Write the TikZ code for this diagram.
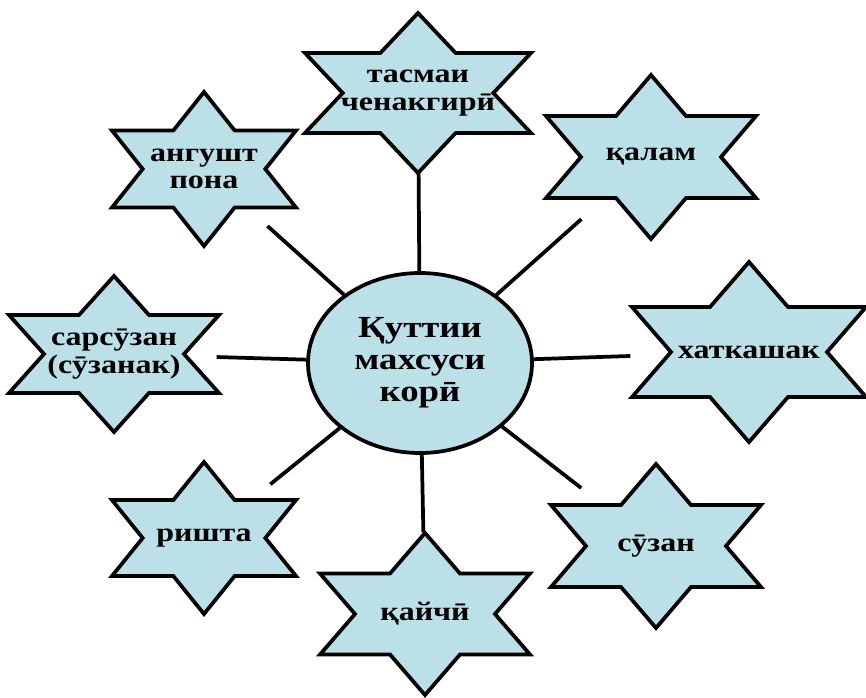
\documentclass[tikz,border=0pt]{standalone}
\usepackage{fontspec}
\newfontfamily\tjfont{Liberation Serif}[FakeStretch=1.2]
\usetikzlibrary{shapes.geometric}
\definecolor{starblue}{HTML}{BCE0E8}

\tikzset{
	starline/.style={draw=black, line width=2.8pt, fill=starblue, line join=miter},
	startext/.style={align=center, font=\tjfont\bfseries\fontsize{20}{20.5}\selectfont},
	spoke/.style={line width=2.8pt}
}

\begin{document}
\begin{tikzpicture}[x=0.75pt, y=-0.75pt]
		\useasboundingbox (0,0) rectangle (866,697);
		
		% Centre
		\node[ellipse, starline, minimum width=168pt, minimum height=135pt, align=center,
		font=\tjfont\bfseries\fontsize{23}{24}\selectfont] (core) at (420,363) {Қуттии\\махсуси\\корӣ};
		
		% Stars
		\foreach \nm/\cx/\cy/\hw/\hh/\txt in {
			tasma/418/93/113/80/{тасмаи\\ченакгирӣ},
			angusht/204/169/92/77/{ангушт\\пона},
			qalam/651/157/105/82/{қалам},
			khatkashak/749/352/117/90/{хаткашак},
			sarsuzan/114/354/105/78/{сарсӯзан\\(сӯзанак)},
			rishta/204/538/92/76/{ришта},
			qaychi/425/614/105/81/{қайчӣ},
			suzan/656/546/105/82/{сӯзан}}{
			\draw[starline, shift={(\cx,\cy)}] (0,-\hh) -- ({\hw/3},{-\hh/2}) -- (\hw,{-\hh/2})
			-- ({2*\hw/3},0) -- (\hw,{\hh/2}) -- ({\hw/3},{\hh/2}) -- (0,\hh)
			-- ({-\hw/3},{\hh/2}) -- (-\hw,{\hh/2}) -- ({-2*\hw/3},0)
			-- (-\hw,{-\hh/2}) -- ({-\hw/3},{-\hh/2}) -- cycle;
			\node[startext] (\nm) at (\cx,\cy) {\txt};
		}
		
		% Spokes
		\foreach \nm/\gap in {tasma/60, angusht/64, qalam/70, khatkashak/89,
			sarsuzan/77, rishta/64, qaychi/61, suzan/71}
		\draw[spoke, shorten >=\gap pt] (core) -- (\nm.center);
		
	\end{tikzpicture}
\end{document}
